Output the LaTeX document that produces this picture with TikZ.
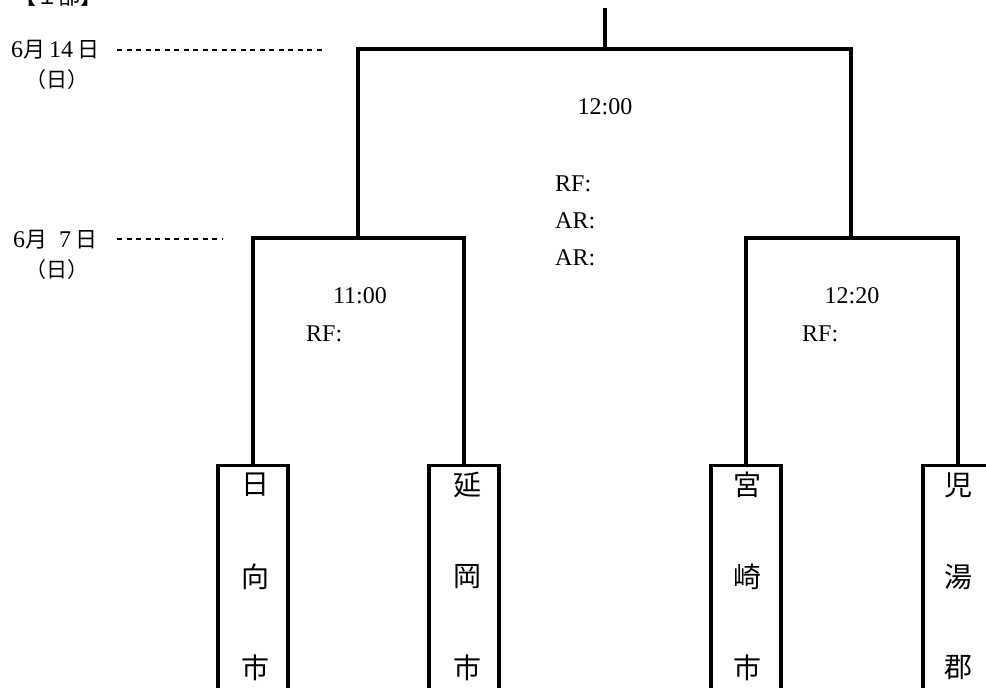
\documentclass[tikz,border=0pt]{standalone}
\usepackage{fontspec}
\setmainfont{Liberation Serif}
\newfontfamily\jp{Noto Sans CJK JP}
\begin{document}
\begin{tikzpicture}[x=1pt,y=-1pt,
  bline/.style={line width=3.2pt,line cap=rect},
  dotline/.style={line width=1.6pt,dash pattern=on 5pt off 4.5pt},
  lbl/.style={inner sep=0pt,font=\fontsize{24}{24}\selectfont},
  datetxt/.style={inner sep=0pt,font=\fontsize{24}{24}\selectfont},
  teambox/.style={draw,line width=3.2pt,minimum width=70pt,minimum height=260pt,anchor=north,inner sep=0pt},
  teamch/.style={inner sep=0pt,font=\jp\fontsize{28}{28}\selectfont}]
\useasboundingbox (0,0) rectangle (986,688);
% title
\node[inner sep=0pt,anchor=west,font=\jp\fontsize{22}{22}\selectfont] (title) at (14,-4) {【１部】};
% dates
\node[datetxt,anchor=west] (d1) at (11,50) {6{\jp\fontsize{22}{22}\selectfont 月}\,14\,{\jp\fontsize{22}{22}\selectfont 日}};
\node[datetxt] (d1b) at (57,80) {{\jp\fontsize{21}{21}\selectfont （日）}};
\node[datetxt,anchor=west] (d2) at (13,240) {6{\jp\fontsize{22}{22}\selectfont 月}\enspace7\,{\jp\fontsize{22}{22}\selectfont 日}};
\node[datetxt] (d2b) at (57,270) {{\jp\fontsize{21}{21}\selectfont （日）}};
\coordinate (d1s) at (117,50);
\coordinate (d1e) at (326,50);
\coordinate (d2s) at (117,239);
\coordinate (d2e) at (222,239);
\draw[dotline] (d1s) -- (d1e);
\draw[dotline] (d2s) -- (d2e);
% bracket coordinates
\coordinate (top) at (605,10);
\coordinate (f) at (605,49);
\coordinate (fl) at (358,49);
\coordinate (fr) at (851,49);
\coordinate (sl) at (358,238);
\coordinate (sr) at (851,238);
% team boxes
\node[teambox] (t1) at (253,464) {};
\node[teambox] (t2) at (464,464) {};
\node[teambox] (t3) at (746,464) {};
\node[teambox] (t4) at (958,464) {};
\coordinate (sl1) at (t1.north |- sl);
\coordinate (sl2) at (t2.north |- sl);
\coordinate (sr1) at (t3.north |- sr);
\coordinate (sr2) at (t4.north |- sr);
\draw[bline] (top) -- (f);
\draw[bline] (sl) -- (fl) -- (fr) -- (sr);
\draw[bline] (t1.north) -- (sl1) -- (sl2) -- (t2.north);
\draw[bline] (t3.north) -- (sr1) -- (sr2) -- (t4.north);
% team names
\node[teamch] (a1) at (255,485) {日};
\node[teamch] (a2) at (255,577) {向};
\node[teamch] (a3) at (255,668) {市};
\node[teamch] (b1) at (467,485) {延};
\node[teamch] (b2) at (467,577) {岡};
\node[teamch] (b3) at (467,668) {市};
\node[teamch] (c1) at (747,485) {宮};
\node[teamch] (c2) at (747,577) {崎};
\node[teamch] (c3) at (747,668) {市};
\node[teamch] (e1) at (958,485) {児};
\node[teamch] (e2) at (958,577) {湯};
\node[teamch] (e3) at (958,668) {郡};
% labels
\node[lbl] (m0) at (605,107) {12:00};
\node[lbl,anchor=west] (m1) at (555,184) {RF:};
\node[lbl,anchor=west] (m2) at (555,221) {AR:};
\node[lbl,anchor=west] (m3) at (555,258) {AR:};
\node[lbl] (l0) at (360,296) {11:00};
\node[lbl,anchor=west] (l1) at (306,334) {RF:};
\node[lbl] (r0) at (852,296) {12:20};
\node[lbl,anchor=west] (r1) at (802,334) {RF:};
\end{tikzpicture}
\end{document}
